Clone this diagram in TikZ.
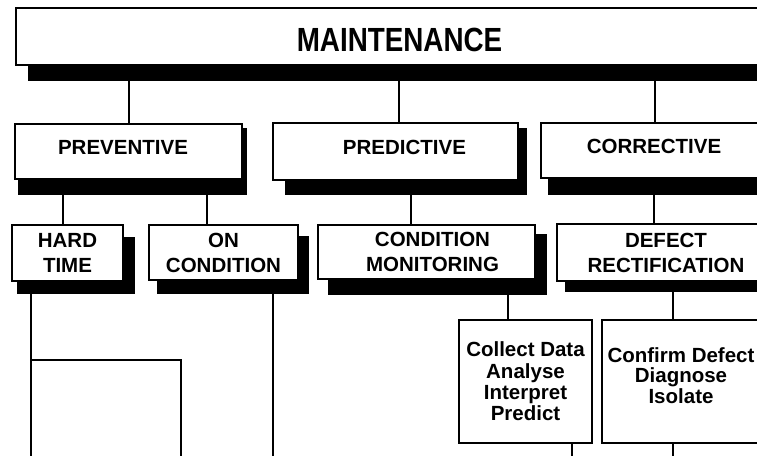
\documentclass[tikz,border=0pt]{standalone}
\usepackage{fontspec}
\setmainfont{Liberation Sans}
\usetikzlibrary{fit}
\begin{document}
\begin{tikzpicture}[x=1pt,y=-1pt,
  box/.style={draw=black, fill=white, line width=2pt, rectangle, inner sep=0pt, align=center,
    font=\bfseries\fontsize{20.5}{25}\selectfont},
  topbox/.style={box, text height=15pt, text depth=9pt},
  shade/.style={fill=black, draw=none, inner sep=0pt},
  link/.style={line width=2pt}]
\useasboundingbox (0,0) rectangle (757,455);

% shadows
\node[shade, fit={(28,13) (790,81)}] (maintS) {};
\node[shade, fit={(18,128) (247,195)}] (prevS) {};
\node[shade, fit={(285,128) (527,195)}] (predS) {};
\node[shade, fit={(548,128) (775,195)}] (corrS) {};
\node[shade, fit={(17,237) (135,294)}] (hardS) {};
\node[shade, fit={(157,236) (309,294)}] (oncS) {};
\node[shade, fit={(328,234) (547,295)}] (cmS) {};
\node[shade, fit={(565,234) (785,292)}] (drS) {};

% boxes
\node[box, minimum width=767pt, minimum height=57pt, text height=29pt, text depth=0pt,
  font=\bfseries\fontsize{33.5}{40}\selectfont] (maint) at (399.5,36.5) {\scalebox{0.83}[1]{MAINTENANCE}};
\node[topbox, minimum width=227pt, minimum height=55pt] (prev) at (128.5,151.5) {PREVENTIVE\hspace*{11pt}};
\node[topbox, minimum width=245pt, minimum height=57pt] (pred) at (395.5,151.5) {\hspace*{18pt}PREDICTIVE};
\node[topbox, minimum width=226pt, minimum height=55pt] (corr) at (654,150.5) {CORRECTIVE};
\node[box, minimum width=111pt, minimum height=56pt] (hard) at (67.5,253) {HARD\\TIME};
\node[box, minimum width=149pt, minimum height=55pt] (onc) at (223.5,252.5) {ON\\CONDITION};
\node[box, minimum width=217pt, minimum height=54pt] (cm) at (426.5,252) {\hspace*{12pt}CONDITION\\\hspace*{12pt}MONITORING};
\node[box, minimum width=218pt, minimum height=57pt] (dr) at (666,252.5) {DEFECT\\RECTIFICATION};
\node[box, minimum width=133pt, minimum height=123pt, font=\bfseries\fontsize{20.5}{21.3}\selectfont] (collect) at (525.5,381.5) {Collect Data\\Analyse\\Interpret\\Predict};
\node[box, minimum width=158pt, minimum height=123pt, text depth=12pt, font=\bfseries\fontsize{20.5}{20.5}\selectfont] (confirm) at (681,381.5) {Confirm Defect\\Diagnose\\Isolate};

% connectors
\draw[link] (prev.north) -- (prev.north |- maintS.south);
\draw[link] ([xshift=3.5pt]pred.north) -- ([xshift=3.5pt]pred.north |- maintS.south);
\draw[link] ([xshift=1pt]corr.north) -- ([xshift=1pt]corr.north |- maintS.south);
\draw[link] ([xshift=-4.5pt]hard.north) -- ([xshift=-4.5pt]hard.north |- prevS.south);
\draw[link] ([xshift=-16.5pt]onc.north) -- ([xshift=-16.5pt]onc.north |- prevS.south);
\draw[link] ([xshift=-15.5pt]cm.north) -- ([xshift=-15.5pt]cm.north |- predS.south);
\draw[link] ([xshift=-12pt]dr.north) -- ([xshift=-12pt]dr.north |- corrS.south);
\draw[link] ([xshift=-17.5pt]collect.north) -- ([xshift=-17.5pt]collect.north |- cmS.south);
\draw[link] ([xshift=-8pt]confirm.north) -- ([xshift=-8pt]confirm.north |- drS.south);

% open ends at the bottom
\coordinate (bot) at (0,456);
\coordinate (hardA) at (31,294);
\coordinate (hardB) at (31,360);
\coordinate (hardC) at (181,360);
\draw[link] (hardA |- hardS.south) -- (hardA |- bot);
\draw[link] (hardB) -- (hardC) -- (hardC |- bot);
\coordinate (oncA) at (273,294);
\draw[link] (oncA |- oncS.south) -- (oncA |- bot);
\draw[link] ([xshift=46.5pt]collect.south) -- ([xshift=46.5pt]collect.south |- bot);
\draw[link] ([xshift=-8pt]confirm.south) -- ([xshift=-8pt]confirm.south |- bot);
\end{tikzpicture}
\end{document}
